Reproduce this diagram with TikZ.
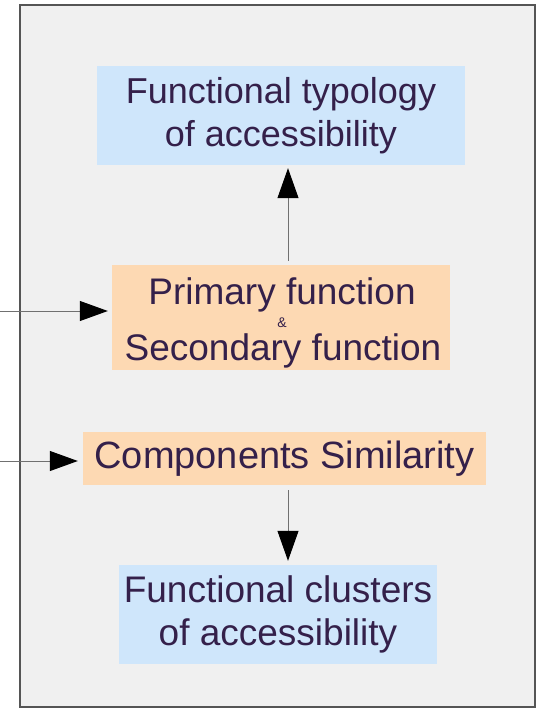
\documentclass[tikz,border=0pt]{standalone}
\usepackage{fontspec}
\setmainfont{Liberation Sans}
\usetikzlibrary{arrows.meta,calc}
\definecolor{panelbg}{HTML}{F0F0F0}
\definecolor{panelline}{HTML}{555555}
\definecolor{bluebox}{HTML}{CFE6FB}
\definecolor{orangebox}{HTML}{FDD9B3}
\definecolor{textpurple}{HTML}{34204A}
\definecolor{linegrey}{HTML}{707070}
\tikzset{
  box/.style={inner sep=0pt, align=center, text=textpurple},
  bluestep/.style={box, fill=bluebox},
  orangestep/.style={box, fill=orangebox},
  words/.style={inner sep=0pt, text=textpurple, anchor=base},
  flow/.style={draw=linegrey, line width=1pt,
    -{Triangle[width=21pt,length=30pt,color=black,fill=black]}},
  feed/.style={draw=linegrey, line width=1pt,
    -{Triangle[width=20pt,length=28pt,color=black,fill=black]}},
}
\begin{document}
\begin{tikzpicture}[x=1pt,y=-1pt]
  \useasboundingbox (0,0) rectangle (538,709);
  % panel
  \draw[fill=panelbg, draw=panelline, line width=1.6pt] (20,5) rectangle (535,707);

  % process boxes
  \node[bluestep, minimum width=368pt, minimum height=99pt,
        font=\fontsize{36pt}{43pt}\selectfont] (typ) at (281,115.5)
    {Functional typology\\of accessibility};
  \node[orangestep, minimum width=338pt, minimum height=105pt] (fun) at (281,317.5) {};
  \node[words, font=\fontsize{37pt}{37pt}\selectfont] (fun1) at (282,304) {Primary function};
  \node[words, font=\fontsize{14pt}{14pt}\selectfont] (fun2) at (282,327) {\&};
  \node[words, font=\fontsize{37pt}{37pt}\selectfont] (fun3) at (283,360) {Secondary function};
  \node[orangestep, minimum width=403pt, minimum height=53pt,
        font=\fontsize{38pt}{45pt}\selectfont] (sim) at (284.5,458.5)
    {Components Similarity};
  \node[bluestep, minimum width=318pt, minimum height=99pt,
        font=\fontsize{37pt}{43pt}\selectfont] (clu) at (278,614.5)
    {Functional clusters\\of accessibility};

  % connectors
  \coordinate (axis) at (288,0);
  \coordinate (in1) at (0,311);
  \coordinate (in2) at (0,461);
  \draw[flow] ($(fun.north -| axis)+(0,-4)$) -- ($(typ.south -| axis)+(0,3)$);
  \draw[flow] ($(sim.south -| axis)+(0,5)$) -- ($(clu.north -| axis)+(0,-4)$);
  \draw[feed] (in1) -- ($(fun.west |- in1)+(-4,0)$);
  \draw[feed] (in2) -- ($(sim.west |- in2)+(-5,0)$);
\end{tikzpicture}
\end{document}
